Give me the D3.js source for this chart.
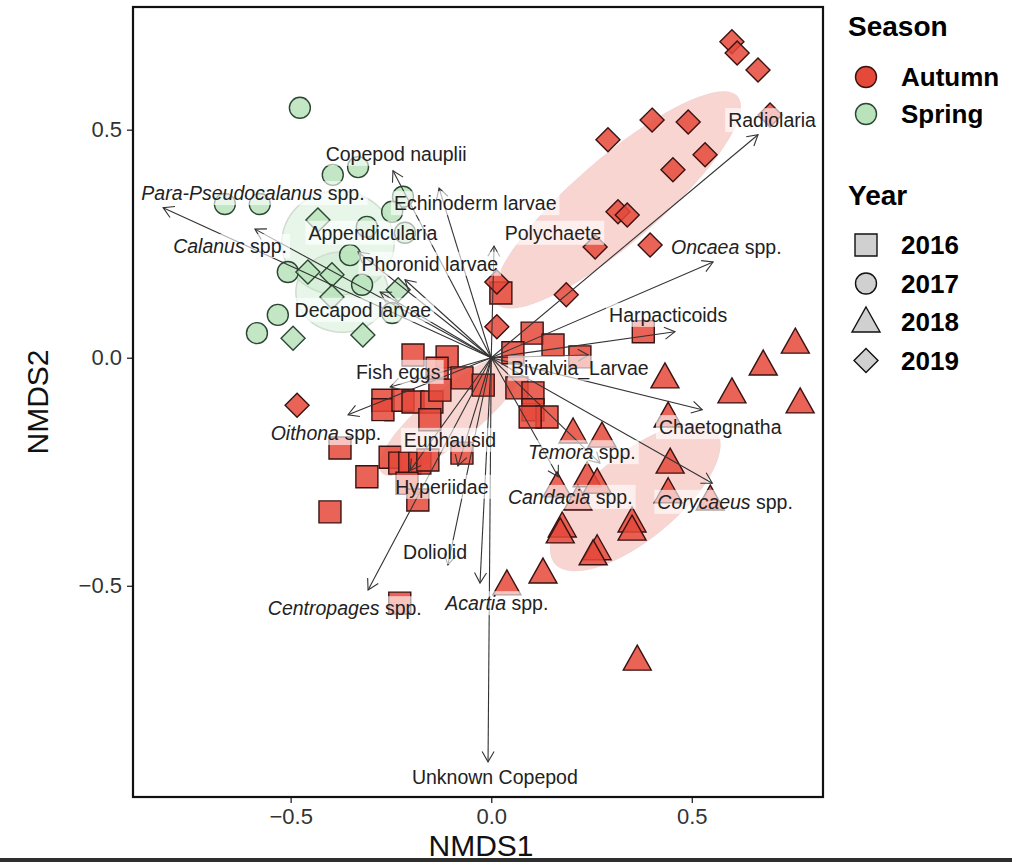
<!DOCTYPE html>
<html>
<head>
<meta charset="utf-8">
<script src="https://cdn.jsdelivr.net/npm/d3@7"></script>
<style>
  body { margin: 0; background: #fff; }
  text { font-family: "Liberation Sans", Arial, Helvetica, sans-serif; }
</style>
</head>
<body>
<svg id="chart" width="1012" height="862"></svg>
<script>
// site scores [NMDS1, NMDS2], one list per season x year
const autumn2016 = [
  [0.024,0.142],[0.102,0.054],[0.154,0.028],[0.221,0.002],[0.379,0.057],[0.054,0.011],
  [-0.195,0.006],[-0.110,0.002],[-0.135,-0.023],[-0.073,-0.044],[-0.020,-0.060],
  [-0.270,-0.093],[-0.270,-0.114],[-0.220,-0.093],[-0.195,-0.097],[-0.148,-0.097],[-0.128,-0.071],[-0.153,-0.136],
  [-0.377,-0.198],[-0.310,-0.261],[-0.252,-0.218],[-0.228,-0.231],[-0.203,-0.231],[-0.178,-0.231],[-0.158,-0.224],
  [-0.210,-0.275],[-0.183,-0.312],[-0.402,-0.338],[-0.228,-0.538],[-0.073,-0.209],
  [0.064,-0.066],[0.104,-0.077],[0.104,-0.114],[0.139,-0.130],[0.097,-0.130]
];
const autumn2018 = [
  [0.758,0.032],[0.678,-0.016],[0.433,-0.044],[0.600,-0.077],[0.770,-0.099],[0.441,-0.130],
  [0.204,-0.165],[0.276,-0.174],[0.446,-0.231],[0.239,-0.261],[0.264,-0.275],[0.164,-0.283],
  [0.216,-0.312],[0.441,-0.296],[0.546,-0.312],[0.177,-0.371],[0.172,-0.384],[0.351,-0.360],
  [0.351,-0.378],[0.264,-0.421],[0.254,-0.432],[0.129,-0.472],[0.039,-0.498],[0.364,-0.663]
];
const autumn2019 = [
  [0.600,0.693],[0.613,0.668],[0.665,0.631],[0.695,0.532],[0.291,0.478],[0.401,0.521],
  [0.491,0.517],[0.533,0.445],[0.453,0.412],[0.316,0.320],[0.339,0.313],[0.259,0.243],
  [0.396,0.247],[0.187,0.138],[0.014,0.166],[0.014,0.068],[-0.484,-0.104]
];
const spring2017 = [
  [-0.477,0.548],[-0.395,0.401],[-0.332,0.418],[-0.664,0.337],[-0.577,0.337],[-0.220,0.353],
  [-0.247,0.320],[-0.310,0.287],[-0.215,0.274],[-0.352,0.225],[-0.507,0.188],[-0.322,0.160],
  [-0.247,0.098],[-0.532,0.094],[-0.584,0.054]
];
const spring2019 = [
  [-0.432,0.302],[-0.457,0.188],[-0.397,0.182],[-0.232,0.149],[-0.397,0.133],[-0.494,0.043],[-0.320,0.050]
];

// species vectors: name split in italic part + plain part
const speciesItalic = ['Para-Pseudocalanus','Calanus','','','','','','','','Oncaea','','','','','Temora','Candacia','Corycaeus','','','','Oithona','Centropages','Acartia',''];
const speciesPlain  = [' spp.',' spp.','Copepod nauplii','Echinoderm larvae','Appendicularia','Phoronid larvae','Decapod larvae','Polychaete','Radiolaria',' spp.','Harpacticoids','Bivalvia_Larvae','Fish eggs','Chaetognatha',' spp.',' spp.',' spp.','Euphausid','Hyperiidae','Doliolid',' spp.',' spp.',' spp.','Unknown Copepod'];
const speciesTip = [
  [-0.818,0.329],[-0.589,0.282],[-0.245,0.410],[-0.130,0.372],[-0.332,0.232],[-0.215,0.171],
  [-0.277,0.144],[0.007,0.245],[0.665,0.489],[0.553,0.210],[0.458,0.057],[0.242,0.006],
  [-0.252,-0.064],[0.526,-0.114],[0.271,-0.231],[0.167,-0.261],[0.551,-0.275],[-0.083,-0.237],
  [-0.202,-0.247],[-0.108,-0.454],[-0.357,-0.125],[-0.307,-0.509],[-0.028,-0.494],[-0.008,-0.886]
];
const speciesLabelAt = [
  [-0.594,0.361],[-0.651,0.245],[-0.237,0.447],[-0.040,0.339],[-0.295,0.274],[-0.153,0.206],
  [-0.320,0.105],[0.154,0.274],[0.700,0.521],[0.586,0.243],[0.441,0.094],[0.221,-0.022],
  [-0.232,-0.031],[0.571,-0.152],[0.226,-0.207],[0.197,-0.305],[0.583,-0.316],[-0.103,-0.180],
  [-0.123,-0.283],[-0.140,-0.426],[-0.412,-0.165],[-0.365,-0.549],[0.014,-0.538],[0.009,-0.919]
];

// group ellipses: centre, major and minor half-axis vectors (NMDS units)
const ellipseSeason = ['Autumn','Autumn','Autumn','Spring','Spring'];
const ellipseCentre = [[-0.098,-0.125],[0.359,-0.305],[0.314,0.346],[-0.382,0.252],[-0.372,0.144]];
const ellipseMajor  = [[0.175,0.125],[0.200,0.145],[0.299,0.226],[0.140,0],[0.115,0]];
const ellipseMinor  = [[0.041,-0.044],[0.067,-0.071],[0.068,-0.070],[0,0.114],[0,0.088]];

const xTicks = [-0.5, 0, 0.5];
const yTicks = [-0.5, 0, 0.5];
const seasons = ['Autumn','Spring'];
const years = ['2016','2017','2018','2019'];

const panel = { left: 133, right: 823, top: 7, bottom: 797 };
const svg = d3.select('#chart');

const x = d3.scaleLinear().domain([-0.893, 0.827]).range([panel.left, panel.right]);
const y = d3.scaleLinear().domain([-0.963, 0.769]).range([panel.bottom, panel.top]);

const fillOf = { Autumn: '#e5493a', Spring: '#b8e3bb' };
const strokeOf = { Autumn: '#3a1212', Spring: '#2c4634' };

// ellipses
const ell = svg.append('g');
const line = d3.line().curve(d3.curveLinearClosed);
ellipseCentre.forEach((c, i) => {
  const pts = d3.range(0, 120).map(k => {
    const t = k / 120 * 2 * Math.PI;
    const px = c[0] + Math.cos(t) * ellipseMajor[i][0] + Math.sin(t) * ellipseMinor[i][0];
    const py = c[1] + Math.cos(t) * ellipseMajor[i][1] + Math.sin(t) * ellipseMinor[i][1];
    return [x(px), y(py)];
  });
  ell.append('path')
    .attr('d', line(pts))
    .attr('fill', ellipseSeason[i] == 'Autumn' ? '#e8574a' : '#b8e3bb')
    .attr('fill-opacity', ellipseSeason[i] == 'Autumn' ? 0.25 : 0.32)
    .attr('stroke', ellipseSeason[i] == 'Autumn' ? '#f3d6d3' : '#cfdccf')
    .attr('stroke-width', 1.5);
});

// shapes per year
function shapePath(year) {
  if (year == '2016') return 'M-11,-11H11V11H-11Z';
  if (year == '2017') return d3.symbol(d3.symbolCircle, 346)();
  if (year == '2018') return 'M0,-15L14,10H-14Z';
  return 'M0,-12L12,0L0,12L-12,0Z';
}

const groups = [
  { season: 'Autumn', year: '2016', data: autumn2016 },
  { season: 'Spring', year: '2017', data: spring2017 },
  { season: 'Autumn', year: '2018', data: autumn2018 },
  { season: 'Autumn', year: '2019', data: autumn2019 },
  { season: 'Spring', year: '2019', data: spring2019 }
];
const pts = svg.append('g');
groups.forEach(g => {
  pts.selectAll(null)
    .data(g.data)
    .enter()
    .append('path')
    .attr('d', shapePath(g.year))
    .attr('transform', d => `translate(${x(d[0])},${y(d[1])})`)
    .attr('fill', fillOf[g.season])
    .attr('fill-opacity', 0.85)
    .attr('stroke', strokeOf[g.season])
    .attr('stroke-width', 1.4);
});

// species arrows
const arr = svg.append('g').attr('stroke', '#333').attr('stroke-width', 1.1).attr('fill', 'none');
speciesTip.forEach(t => {
  const x0 = x(0), y0 = y(0), x1 = x(t[0]), y1 = y(t[1]);
  const ang = Math.atan2(y1 - y0, x1 - x0);
  const L = 12, a = Math.PI / 6;
  arr.append('line').attr('x1', x0).attr('y1', y0).attr('x2', x1).attr('y2', y1);
  arr.append('path').attr('d',
    `M${x1 - L * Math.cos(ang - a)},${y1 - L * Math.sin(ang - a)}L${x1},${y1}L${x1 - L * Math.cos(ang + a)},${y1 - L * Math.sin(ang + a)}`);
});

// species labels with pale boxes
const lab = svg.append('g');
speciesLabelAt.forEach((p, i) => {
  const g = lab.append('g');
  const t = g.append('text')
    .attr('x', x(p[0])).attr('y', y(p[1]))
    .attr('text-anchor', 'middle')
    .attr('dominant-baseline', 'central')
    .attr('font-size', 19.5)
    .attr('fill', '#222');
  if (speciesItalic[i]) t.append('tspan').attr('font-style', 'italic').text(speciesItalic[i]);
  t.append('tspan').text(speciesPlain[i]);
  const bb = t.node().getBBox();
  g.insert('rect', 'text')
    .attr('x', bb.x - 3).attr('y', bb.y - 1)
    .attr('width', bb.width + 6).attr('height', bb.height + 2)
    .attr('fill', '#fff').attr('fill-opacity', 0.62);
});

// axes
const xAxis = svg.append('g')
  .attr('transform', `translate(0,${panel.bottom})`)
  .call(d3.axisBottom(x).tickValues(xTicks).tickFormat(d3.format('.1f')).tickSize(6).tickPadding(5));
const yAxis = svg.append('g')
  .attr('transform', `translate(${panel.left},0)`)
  .call(d3.axisLeft(y).tickValues(yTicks).tickFormat(d3.format('.1f')).tickSize(6).tickPadding(5));
[xAxis, yAxis].forEach(a => {
  a.select('.domain').remove();
  a.selectAll('line').attr('stroke', '#333').attr('stroke-width', 1.4);
  a.selectAll('text').attr('font-size', 22).attr('fill', '#333')
    .style('font-family', '"Liberation Sans", Arial, sans-serif');
});

svg.append('rect')
  .attr('x', panel.left).attr('y', panel.top)
  .attr('width', panel.right - panel.left).attr('height', panel.bottom - panel.top)
  .attr('fill', 'none').attr('stroke', '#111').attr('stroke-width', 2.2);

svg.append('text')
  .attr('x', (panel.left + panel.right) / 2 + 3).attr('y', 856)
  .attr('text-anchor', 'middle').attr('font-size', 30).attr('fill', '#111')
  .text('NMDS1');
svg.append('text')
  .attr('transform', `translate(48,${(panel.top + panel.bottom) / 2}) rotate(-90)`)
  .attr('text-anchor', 'middle').attr('font-size', 30).attr('fill', '#111')
  .text('NMDS2');

// legend
const leg = svg.append('g').attr('transform', 'translate(848,0)');
leg.append('text').attr('x', 0).attr('y', 36).attr('font-size', 28).attr('font-weight', 'bold').text('Season');
seasons.forEach((s, i) => {
  const cy = 77 + i * 37;
  leg.append('circle').attr('cx', 18).attr('cy', cy).attr('r', 10.5)
    .attr('fill', fillOf[s]).attr('stroke', strokeOf[s]).attr('stroke-width', 1.4);
  leg.append('text').attr('x', 53).attr('y', cy + 9).attr('font-size', 26).attr('font-weight', 'bold').text(s);
});
leg.append('text').attr('x', 0).attr('y', 205).attr('font-size', 28).attr('font-weight', 'bold').text('Year');
years.forEach((yr, i) => {
  const cy = 245 + i * 38.5;
  leg.append('path').attr('d', shapePath(yr)).attr('transform', `translate(18,${cy})`)
    .attr('fill', '#d0d0d0').attr('stroke', '#111').attr('stroke-width', 1.4);
  leg.append('text').attr('x', 53).attr('y', cy + 9).attr('font-size', 26).attr('font-weight', 'bold').text(yr);
});

// dark strip at the bottom edge of the picture
svg.append('rect').attr('x', 0).attr('y', 858).attr('width', 1012).attr('height', 4).attr('fill', '#2e2e2e');
</script>
</body>
</html>
